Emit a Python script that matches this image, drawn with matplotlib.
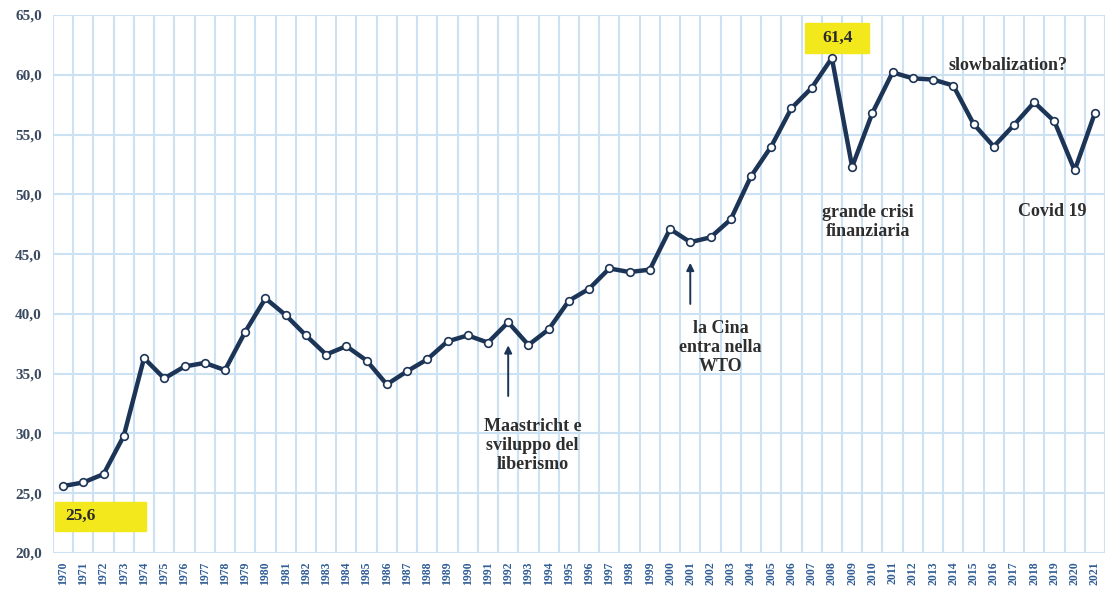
import matplotlib.pyplot as plt
from matplotlib.patches import Rectangle

years = list(range(1970, 2022))
values = [
    25.6, 25.9, 26.6, 29.8, 36.3, 34.6, 35.6, 35.9, 35.3, 38.5,
    41.3, 39.9, 38.2, 36.6, 37.3, 36.1, 34.1, 35.2, 36.2, 37.7,
    38.2, 37.6, 39.3, 37.4, 38.7, 41.1, 42.1, 43.8, 43.5, 43.7,
    47.1, 46.0, 46.4, 47.9, 51.5, 54.0, 57.2, 58.9, 61.4, 52.3,
    56.8, 60.2, 59.7, 59.6, 59.1, 55.9, 54.0, 55.8, 57.7, 56.1,
    52.0, 56.8,
]
y_ticks = [20, 25, 30, 35, 40, 45, 50, 55, 60, 65]

NAVY = "#1c3557"
GRID = "#cce2f3"
YELLOW = "#f2e81c"
SERIF = ["Liberation Serif", "DejaVu Serif"]


def it_fmt(v):
    return f"{v:.1f}".replace(".", ",")


fig = plt.figure(figsize=(11.09, 5.99), dpi=100)
ax = fig.add_axes([53 / 1109, 46 / 599, 1052 / 1109, 538 / 599])

ax.plot(years, values, color=NAVY, lw=3.2, marker="o", ms=5.5,
        mfc="white", mec=NAVY, mew=1.2, zorder=3, solid_joinstyle="round")

ax.set_xlim(1969.5, 2021.5)
ax.set_ylim(20, 65)

# year gridlines sit between the points
ax.set_xticks([y - 0.5 for y in years] + [2021.5], minor=True)
ax.set_xticks(years)
ax.set_xticklabels([str(y) for y in years], rotation=90, fontsize=8.5,
                   color="#2f5d95", family=SERIF, fontweight="bold")
ax.set_yticks(y_ticks)
ax.set_yticklabels([it_fmt(v) for v in y_ticks],
                   fontsize=11, color="#3a4a60", family=SERIF, fontweight="bold")
ax.tick_params(axis="both", which="both", length=0)
ax.tick_params(axis="y", pad=8)
ax.tick_params(axis="x", pad=6)
ax.grid(False)
ax.grid(True, which="minor", axis="x", color=GRID, lw=1.5)
ax.grid(True, which="major", axis="y", color=GRID, lw=1.5)
ax.set_axisbelow(True)
for s in ax.spines.values():
    s.set_visible(False)

# highlighted first value and peak
ax.add_patch(Rectangle((1969.6, 21.85), 4.5, 2.45, color=YELLOW, zorder=2, clip_on=False))
ax.text(1970.1, 23.1, it_fmt(values[0]), fontsize=12.5,
        family=SERIF, fontweight="bold", color="#2b2b2b", va="center", zorder=4)
ax.add_patch(Rectangle((2006.68, 61.8), 3.16, 2.55, color=YELLOW, zorder=2, clip_on=False))
ax.text(2008.26, 63.05, it_fmt(values[38]), fontsize=12.5, ha="center",
        family=SERIF, fontweight="bold", color="#2b2b2b", va="center", zorder=4)

txt = dict(fontsize=13, family=SERIF, fontweight="bold", color="#2e2e2e",
           ha="center", va="center", linespacing=1.15, zorder=4)
ax.text(1993.2, 29.0, "Maastricht e\nsviluppo del\nliberismo", **txt)
ax.text(2002.5, 37.2, "la Cina\nentra nella\nWTO", **txt)
ax.text(2009.8, 47.7, "grande crisi\nfinanziaria", **txt)
ax.text(2016.7, 60.8, "slowbalization?", **txt)
ax.text(2018.9, 48.6, "Covid 19", **txt)

arrow = dict(arrowstyle="-|>", color=NAVY, lw=1.4, mutation_scale=11)
ax.annotate("", xy=(1992, 37.6), xytext=(1992, 32.9), arrowprops=arrow)
ax.annotate("", xy=(2001, 44.5), xytext=(2001, 40.6), arrowprops=arrow)

fig.savefig("out.png", dpi=100)
